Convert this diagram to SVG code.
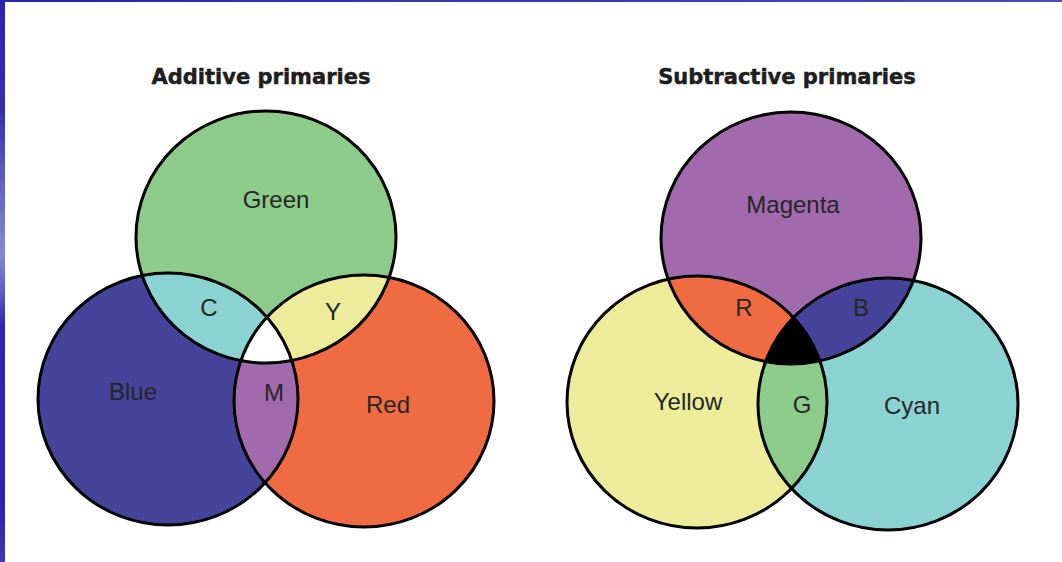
<svg xmlns="http://www.w3.org/2000/svg" width="1062" height="562" viewBox="0 0 1062 562">
  <style>
    .title { font-family: "DejaVu Sans", "Liberation Sans", sans-serif; font-weight: bold; font-size: 21px; fill: #1e1e1e; stroke: #1e1e1e; stroke-width: 0.5; text-anchor: middle; }
    .lbl { font-family: "Liberation Sans", Arial, sans-serif; font-size: 24px; fill: #262626; text-anchor: middle; }
    .ring { fill: none; stroke: #000; stroke-width: 3; }
  </style>
  <defs>
    <linearGradient id="edge" x1="0" y1="0" x2="0" y2="1">
      <stop offset="0" stop-color="#2a22b0"/>
      <stop offset="0.2" stop-color="#3430b4"/>
      <stop offset="0.3" stop-color="#5a56c2"/>
      <stop offset="0.45" stop-color="#8a88d4"/>
      <stop offset="0.52" stop-color="#5e5bc6"/>
      <stop offset="0.58" stop-color="#2c26b0"/>
      <stop offset="0.9" stop-color="#2a24b0"/>
      <stop offset="1" stop-color="#3c3ab8"/>
    </linearGradient>
    <linearGradient id="topEdge" x1="0" y1="0" x2="1" y2="0">
      <stop offset="0" stop-color="#2a22b0"/>
      <stop offset="1" stop-color="#4d48bc"/>
    </linearGradient>
    <!-- additive set -->
    <clipPath id="clipGreen"><ellipse cx="266" cy="237" rx="130" ry="126"/></clipPath>
    <clipPath id="clipBlue"><ellipse cx="168" cy="399" rx="130" ry="126"/></clipPath>
    <clipPath id="clipRed"><ellipse cx="364" cy="401" rx="130" ry="126"/></clipPath>
    <!-- subtractive set -->
    <clipPath id="clipMagenta"><ellipse cx="791" cy="238" rx="130" ry="126"/></clipPath>
    <clipPath id="clipYellow"><ellipse cx="697" cy="402" rx="130" ry="126"/></clipPath>
    <clipPath id="clipCyan"><ellipse cx="888" cy="404" rx="130" ry="126"/></clipPath>
  </defs>

  <rect width="1062" height="562" fill="#ffffff"/>
  <rect x="0" y="0" width="1062" height="2" fill="url(#topEdge)"/>
  <rect x="0" y="0" width="5" height="562" fill="url(#edge)"/>

  <text class="title" x="261" y="84">Additive primaries</text>
  <text class="title" x="787" y="84">Subtractive primaries</text>

  <!-- Additive primaries -->
  <g id="green"><ellipse cx="266" cy="237" rx="130" ry="126" fill="#8dcb8a"/></g>
  <g id="blue"><ellipse cx="168" cy="399" rx="130" ry="126" fill="#46449a"/></g>
  <g id="red"><ellipse cx="364" cy="401" rx="130" ry="126" fill="#f06a42"/></g>
  <g id="cyan-mix" clip-path="url(#clipGreen)"><ellipse cx="168" cy="399" rx="130" ry="126" fill="#8bd3d2"/></g>
  <g id="yellow-mix" clip-path="url(#clipGreen)"><ellipse cx="364" cy="401" rx="130" ry="126" fill="#ecec9a"/></g>
  <g id="magenta-mix" clip-path="url(#clipBlue)"><ellipse cx="364" cy="401" rx="130" ry="126" fill="#a16aac"/></g>
  <g id="white-mix" clip-path="url(#clipGreen)">
    <g clip-path="url(#clipBlue)"><ellipse cx="364" cy="401" rx="130" ry="126" fill="#ffffff"/></g>
  </g>
  <g id="additive-rings">
    <ellipse class="ring" cx="266" cy="237" rx="130" ry="126"/>
    <ellipse class="ring" cx="168" cy="399" rx="130" ry="126"/>
    <ellipse class="ring" cx="364" cy="401" rx="130" ry="126"/>
  </g>
  <g id="additive-labels">
    <text class="lbl" x="276" y="208">Green</text>
    <text class="lbl" x="209" y="316">C</text>
    <text class="lbl" x="333" y="320">Y</text>
    <text class="lbl" x="133" y="400">Blue</text>
    <text class="lbl" x="274" y="401">M</text>
    <text class="lbl" x="388" y="413">Red</text>
  </g>

  <!-- Subtractive primaries -->
  <g id="magenta"><ellipse cx="791" cy="238" rx="130" ry="126" fill="#a16aac"/></g>
  <g id="yellow"><ellipse cx="697" cy="402" rx="130" ry="126" fill="#ecec9a"/></g>
  <g id="cyan"><ellipse cx="888" cy="404" rx="130" ry="126" fill="#8bd3d2"/></g>
  <g id="red-mix" clip-path="url(#clipMagenta)"><ellipse cx="697" cy="402" rx="130" ry="126" fill="#f06a42"/></g>
  <g id="blue-mix" clip-path="url(#clipMagenta)"><ellipse cx="888" cy="404" rx="130" ry="126" fill="#46449a"/></g>
  <g id="green-mix" clip-path="url(#clipYellow)"><ellipse cx="888" cy="404" rx="130" ry="126" fill="#8dcb8a"/></g>
  <g id="black-mix" clip-path="url(#clipMagenta)">
    <g clip-path="url(#clipYellow)"><ellipse cx="888" cy="404" rx="130" ry="126" fill="#000000"/></g>
  </g>
  <g id="subtractive-rings">
    <ellipse class="ring" cx="791" cy="238" rx="130" ry="126"/>
    <ellipse class="ring" cx="697" cy="402" rx="130" ry="126"/>
    <ellipse class="ring" cx="888" cy="404" rx="130" ry="126"/>
  </g>
  <g id="subtractive-labels">
    <text class="lbl" x="793" y="213">Magenta</text>
    <text class="lbl" x="744" y="316">R</text>
    <text class="lbl" x="861" y="316">B</text>
    <text class="lbl" x="688" y="410">Yellow</text>
    <text class="lbl" x="802" y="413">G</text>
    <text class="lbl" x="912" y="414">Cyan</text>
  </g>
</svg>
